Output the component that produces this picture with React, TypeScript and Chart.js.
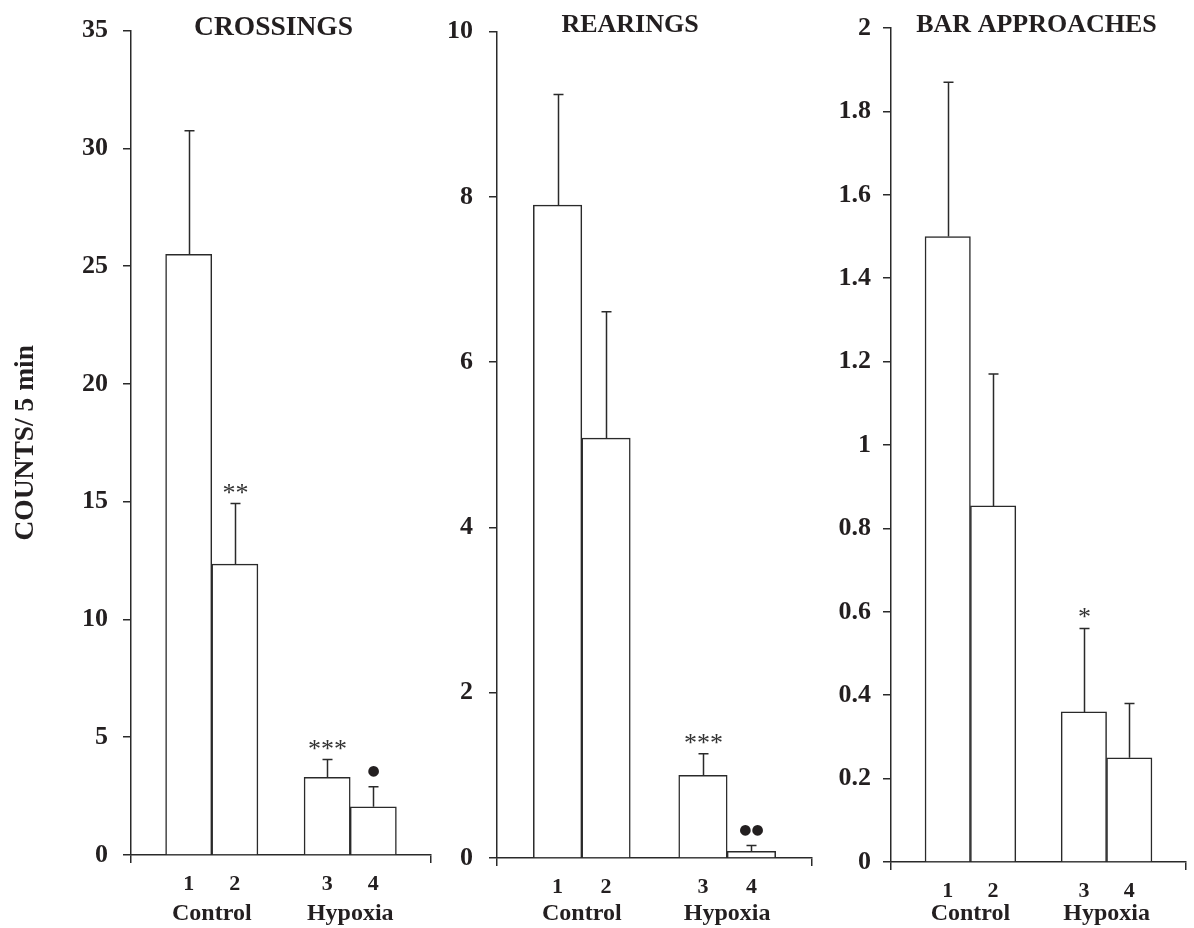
import React, { useEffect, useRef } from "react";
import { Chart, registerables } from "chart.js";

Chart.register(...registerables);

// ---------- data ----------
const barLabels = ["1", "2", "3", "4"];
const barGroups = [0, 0, 1, 1];
const groupLabels = ["Control", "Hypoxia"];

const crossingsMean = [25.5, 12.35, 3.3, 2.05];
const crossingsSem = [5.25, 2.57, 0.75, 0.85];
const crossingsMarks = ["", "**", "***", "●"];
const crossingsTicks = [0, 5, 10, 15, 20, 25, 30, 35];

const rearingsMean = [7.9, 5.08, 1.0, 0.08];
const rearingsSem = [1.34, 1.53, 0.26, 0.07];
const rearingsMarks = ["", "", "***", "●●"];
const rearingsTicks = [0, 2, 4, 6, 8, 10];

const approachesMean = [1.5, 0.854, 0.36, 0.25];
const approachesSem = [0.37, 0.316, 0.2, 0.13];
const approachesMarks = ["", "", "*", ""];
const approachesTicks = [0, 0.2, 0.4, 0.6, 0.8, 1, 1.2, 1.4, 1.6, 1.8, 2];

const yAxisTitle = "COUNTS/ 5 min";

// ---------- styles ----------
const INK = "#231f20";
const LINE = "#2a2a2a";
const SERIF = "'Liberation Serif', 'Times New Roman', serif";
const X_MIN = -1.25;
const X_MAX = 5.25;

type PanelProps = {
  title: string;
  mean: number[];
  sem: number[];
  marks: string[];
  ticks: number[];
  left: number;
  width: number;
  yAxisWidth: number;
  top: number;
  bottomHeight: number;
  rightPad: number;
  titleX: number;
  titleBaseline: number;
  titleSize: number;
  tickPadding: number;
  showYTitle?: boolean;
};

function Panel(p: PanelProps) {
  const ref = useRef<HTMLCanvasElement | null>(null);

  useEffect(() => {
    if (!ref.current) return;
    const xs = barLabels.map((_, i) => i + barGroups[i]);

    const annotate = {
      id: "annotate",
      afterDatasetsDraw(chart: any) {
        const ctx = chart.ctx;
        const xScale = chart.scales.x;
        const yScale = chart.scales.y;
        ctx.save();
        // error bars (upper only)
        ctx.strokeStyle = LINE;
        ctx.lineWidth = 1.5;
        p.mean.forEach((m, i) => {
          const x = Math.round(xScale.getPixelForValue(xs[i])) + 0.5;
          const y0 = yScale.getPixelForValue(m);
          const y1 = yScale.getPixelForValue(m + p.sem[i]);
          ctx.beginPath();
          ctx.moveTo(x, y0);
          ctx.lineTo(x, y1);
          ctx.moveTo(x - 5, y1);
          ctx.lineTo(x + 5, y1);
          ctx.stroke();
          const mark = p.marks[i];
          if (mark) {
            ctx.textAlign = "center";
            if (mark.includes("*")) {
              ctx.textBaseline = "alphabetic";
              ctx.fillStyle = "#333333";
              ctx.font = `normal 26px ${SERIF}`;
              ctx.fillText(mark, x, y1 - 3);
            } else {
              ctx.textBaseline = "middle";
              ctx.fillStyle = INK;
              ctx.font = `normal 14px 'DejaVu Sans', sans-serif`;
              ctx.fillText(mark, x, y1 - 15);
            }
          }
        });
        // group labels
        ctx.fillStyle = INK;
        ctx.font = `bold 24px ${SERIF}`;
        ctx.textAlign = "center";
        ctx.textBaseline = "middle";
        groupLabels.forEach((g, gi) => {
          const px = xs
            .filter((_, i) => barGroups[i] === gi)
            .map((v) => xScale.getPixelForValue(v));
          const cx = px.reduce((a, b) => a + b, 0) / px.length;
          ctx.fillText(g, cx, chart.height - 14);
        });
        // panel title
        ctx.font = `bold ${p.titleSize}px ${SERIF}`;
        ctx.textBaseline = "alphabetic";
        ctx.fillText(p.title, p.titleX, p.titleBaseline);
        ctx.restore();
      },
    };

    const chart = new Chart(ref.current, {
      type: "bar",
      data: {
        datasets: [
          {
            data: xs.map((x, i) => ({ x, y: p.mean[i] })),
            backgroundColor: "#ffffff",
            borderColor: LINE,
            borderWidth: 1.5,
            categoryPercentage: 1,
            barPercentage: 1,
          } as any,
        ],
      },
      options: {
        animation: false,
        responsive: true,
        maintainAspectRatio: false,
        layout: { padding: { top: p.top, right: p.rightPad, left: 0, bottom: 0 } },
        plugins: {
          legend: { display: false },
          tooltip: { enabled: false },
          title: { display: false },
        },
        scales: {
          x: {
            type: "linear",
            offset: false,
            min: X_MIN,
            max: X_MAX,
            afterBuildTicks: (s: any) => {
              s.ticks = [X_MIN, ...xs, X_MAX].map((v) => ({ value: v }));
            },
            afterFit: (s: any) => {
              s.height = p.bottomHeight;
            },
            ticks: {
              autoSkip: false,
              maxRotation: 0,
              padding: 8,
              color: INK,
              font: { family: SERIF, size: 22, weight: "bold" },
              callback: (v: any) => {
                const i = xs.indexOf(Number(v));
                return i >= 0 ? barLabels[i] : "";
              },
            },
            grid: {
              offset: false,
              drawOnChartArea: false,
              drawTicks: true,
              tickLength: 8,
              lineWidth: 1.5,
              color: (c: any) =>
                c.tick && (c.tick.value === X_MIN || c.tick.value === X_MAX)
                  ? LINE
                  : "rgba(0,0,0,0)",
            },
            border: { display: true, color: LINE, width: 1.5 },
          },
          y: {
            type: "linear",
            min: 0,
            max: p.ticks[p.ticks.length - 1],
            afterBuildTicks: (s: any) => {
              s.ticks = p.ticks.map((v) => ({ value: v }));
            },
            afterFit: (s: any) => {
              s.width = p.yAxisWidth;
            },
            ticks: {
              autoSkip: false,
              padding: p.tickPadding,
              color: INK,
              font: { family: SERIF, size: 26, weight: "bold" },
              callback: (v: any) => String(v),
            },
            grid: {
              drawOnChartArea: false,
              drawTicks: true,
              tickLength: 8,
              lineWidth: 1.5,
              color: LINE,
            },
            border: { display: true, color: LINE, width: 1.5 },
            title: {
              display: !!p.showYTitle,
              text: yAxisTitle,
              color: INK,
              font: { family: SERIF, size: 27.5, weight: "bold" },
              padding: { top: 9, bottom: 0 },
            },
          },
        },
      } as any,
      plugins: [annotate],
    });
    return () => chart.destroy();
  }, []);

  return (
    <div
      style={{
        position: "absolute",
        left: p.left,
        top: 0,
        width: p.width,
        height: 928,
      }}
    >
      <canvas ref={ref} />
    </div>
  );
}

export default function App() {
  return (
    <div
      style={{
        position: "absolute",
        left: 0,
        top: 0,
        width: 1194,
        height: 928,
        background: "#ffffff",
        overflow: "hidden",
      }}
    >
      <Panel
        title="CROSSINGS"
        mean={crossingsMean}
        sem={crossingsSem}
        marks={crossingsMarks}
        ticks={crossingsTicks}
        left={0}
        width={440}
        yAxisWidth={131}
        top={27}
        bottomHeight={73}
        rightPad={9}
        titleX={273.5}
        titleBaseline={35}
        titleSize={27.5}
        tickPadding={15}
        showYTitle
      />
      <Panel
        title="REARINGS"
        mean={rearingsMean}
        sem={rearingsSem}
        marks={rearingsMarks}
        ticks={rearingsTicks}
        left={440}
        width={380}
        yAxisWidth={57}
        top={27}
        bottomHeight={70}
        rightPad={4}
        titleX={190}
        titleBaseline={32}
        titleSize={26}
        tickPadding={16}
      />
      <Panel
        title="BAR APPROACHES"
        mean={approachesMean}
        sem={approachesSem}
        marks={approachesMarks}
        ticks={approachesTicks}
        left={820}
        width={374}
        yAxisWidth={71}
        top={28}
        bottomHeight={66}
        rightPad={1}
        titleX={216.5}
        titleBaseline={32}
        titleSize={26}
        tickPadding={12}
      />
    </div>
  );
}
